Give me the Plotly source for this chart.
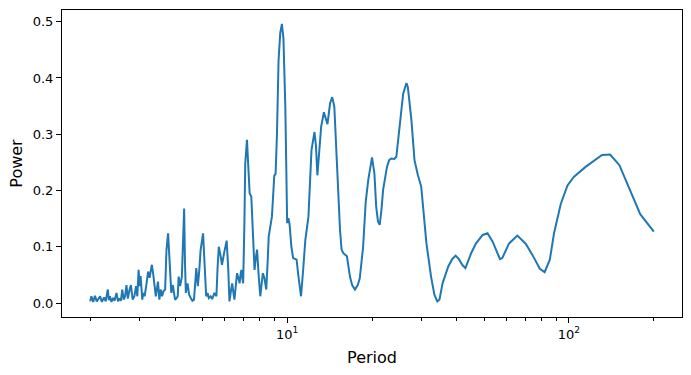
import numpy as np
import plotly.graph_objects as go

# periodogram (period, power)
period = [2.00, 2.02, 2.05, 2.08, 2.11, 2.14, 2.17, 2.20, 2.24, 2.27, 2.31, 2.33, 2.35, 2.38,
          2.41, 2.44, 2.48, 2.51, 2.54, 2.57, 2.60, 2.63, 2.66, 2.69, 2.72, 2.76, 2.79, 2.83,
          2.87, 2.91, 2.94, 2.97, 3.00, 3.02, 3.04, 3.06, 3.09, 3.12, 3.16, 3.21, 3.25, 3.28,
          3.31, 3.35, 3.38, 3.42, 3.45, 3.48, 3.52, 3.56, 3.60, 3.64, 3.69, 3.73, 3.78, 3.83,
          3.88, 3.93, 4.00, 4.04, 4.09, 4.12, 4.17, 4.23, 4.27, 4.31, 4.34, 4.37, 4.43, 4.49,
          4.55, 4.61, 4.67, 4.72, 4.76, 4.79, 4.82, 4.88, 4.93, 5.03, 5.09, 5.16, 5.22, 5.27,
          5.35, 5.42, 5.52, 5.61, 5.66, 5.72, 5.80, 5.87, 5.98, 6.10, 6.18, 6.24, 6.31, 6.38,
          6.44, 6.50, 6.57, 6.64, 6.71, 6.78, 6.83, 6.88, 6.93, 6.98, 7.05, 7.10, 7.20, 7.28,
          7.36, 7.46, 7.55, 7.66, 7.74, 7.82, 7.92, 8.03, 8.10, 8.20, 8.30, 8.43, 8.52, 8.60,
          8.83, 9.00, 9.10, 9.20, 9.32, 9.45, 9.58, 9.70, 9.85, 9.95, 10.0, 10.1, 10.2, 10.35,
          10.5, 10.7, 10.8, 10.95, 11.2, 11.4, 11.6, 11.9, 12.2, 12.5, 12.65, 12.8, 13.0, 13.2,
          13.5, 13.7, 13.9, 14.2, 14.45, 14.7, 15.0, 15.2, 15.4, 15.6, 15.8, 16.3, 16.7, 17.0,
          17.4, 17.8, 18.1, 18.6, 19.0, 19.4, 20.0, 20.4, 20.7, 21.0, 21.3, 21.6, 21.9, 22.6,
          23.0, 23.4, 24.0, 24.4, 25.1, 25.8, 26.5, 26.8, 27.6, 28.3, 29.1, 29.9, 31.2, 32.4,
          33.3, 34.1, 34.7, 35.6, 37.3, 38.5, 39.6, 40.7, 41.8, 42.9, 45.0, 46.8, 49.4, 51.4,
          53.6, 56.9, 58.0, 61.3, 65.6, 70.3, 74.1, 78.8, 82.0, 85.5, 88.5, 93.5, 98.8, 104,
          114.5, 131, 140, 151, 179, 200]
power = [0.003, 0.012, 0.002, 0.013, 0.003, 0.008, 0.012, 0.002, 0.010, 0.003, 0.024, 0.005, 0.012, 0.002,
         0.009, 0.004, 0.018, 0.003, 0.008, 0.004, 0.024, 0.006, 0.012, 0.032, 0.008, 0.024, 0.032, 0.006,
         0.012, 0.030, 0.012, 0.059, 0.030, 0.048, 0.022, 0.006, 0.018, 0.012, 0.030, 0.056, 0.045, 0.060,
         0.068, 0.050, 0.030, 0.012, 0.025, 0.038, 0.006, 0.024, 0.012, 0.021, 0.024, 0.094, 0.124, 0.062,
         0.018, 0.032, 0.006, 0.008, 0.012, 0.047, 0.030, 0.047, 0.110, 0.168, 0.070, 0.018, 0.035, 0.015,
         0.009, 0.004, 0.006, 0.035, 0.062, 0.045, 0.030, 0.060, 0.094, 0.124, 0.060, 0.012, 0.018, 0.009,
         0.012, 0.007, 0.018, 0.012, 0.060, 0.100, 0.085, 0.068, 0.090, 0.111, 0.060, 0.003, 0.020, 0.035,
         0.020, 0.006, 0.030, 0.053, 0.045, 0.035, 0.050, 0.059, 0.045, 0.035, 0.140, 0.248, 0.290, 0.240,
         0.195, 0.189, 0.120, 0.059, 0.080, 0.095, 0.050, 0.012, 0.030, 0.053, 0.045, 0.024, 0.070, 0.118,
         0.154, 0.226, 0.230, 0.300, 0.431, 0.480, 0.496, 0.470, 0.350, 0.180, 0.142, 0.151, 0.140, 0.100,
         0.080, 0.078, 0.077, 0.050, 0.012, 0.060, 0.112, 0.154, 0.272, 0.304, 0.280, 0.227, 0.280, 0.313,
         0.339, 0.330, 0.318, 0.355, 0.366, 0.349, 0.254, 0.180, 0.130, 0.095, 0.089, 0.083, 0.047, 0.032,
         0.024, 0.032, 0.044, 0.100, 0.180, 0.219, 0.259, 0.230, 0.171, 0.145, 0.139, 0.165, 0.201, 0.242,
         0.254, 0.257, 0.256, 0.260, 0.313, 0.372, 0.391, 0.384, 0.325, 0.254, 0.227, 0.207, 0.106, 0.047,
         0.015, 0.003, 0.006, 0.035, 0.065, 0.078, 0.084, 0.078, 0.068, 0.062, 0.089, 0.106, 0.121, 0.124,
         0.109, 0.078, 0.080, 0.106, 0.120, 0.105, 0.086, 0.061, 0.055, 0.077, 0.124, 0.176, 0.209, 0.224,
         0.242, 0.263, 0.264, 0.245, 0.158, 0.127]

ytick_vals = [0.0, 0.1, 0.2, 0.3, 0.4, 0.5]
xtick_vals = [10, 100]
xtick_text = ["10<sup>1</sup>", "10<sup>2</sup>"]
xminor_vals = [2, 3, 4, 5, 6, 7, 8, 9, 20, 30, 40, 50, 60, 70, 80, 90, 200]

fig = go.Figure()
fig.add_trace(go.Scatter(x=period, y=power, mode="lines",
                         line=dict(color="#1f77b4", width=2), showlegend=False))

# matplotlib style 5% margins around the data
lx = np.log10([min(period), max(period)])
pad = 0.05 * (lx[1] - lx[0])
ypad = 0.05 * max(power)

fig.update_xaxes(type="log", range=[lx[0] - pad, lx[1] + pad],
                 tickvals=xtick_vals, ticktext=xtick_text,
                 ticks="outside", ticklen=5, tickwidth=1, tickcolor="black",
                 minor=dict(tickvals=xminor_vals, ticks="outside", ticklen=3, tickcolor="black"),
                 showline=True, linecolor="black", linewidth=1, mirror=True,
                 showgrid=False, zeroline=False, automargin=False,
                 title=dict(text="Period", standoff=11))
fig.update_yaxes(range=[-ypad, max(power) + ypad], tickvals=ytick_vals, tickformat=".1f",
                 ticks="outside", ticklen=5, tickwidth=1, tickcolor="black",
                 showline=True, linecolor="black", linewidth=1, mirror=True,
                 showgrid=False, zeroline=False, automargin=False,
                 title=dict(text="Power", standoff=6))

fig.update_layout(width=691, height=375,
                  margin=dict(l=62, r=9, t=10, b=58),
                  plot_bgcolor="white", paper_bgcolor="white",
                  font=dict(family="DejaVu Sans", size=13, color="black"))

# page body has a default 8px margin; drop it so the figure sits at the corner
fig.write_html("out.html", config={"displayModeBar": False},
               post_script="document.body.style.margin='0';")
